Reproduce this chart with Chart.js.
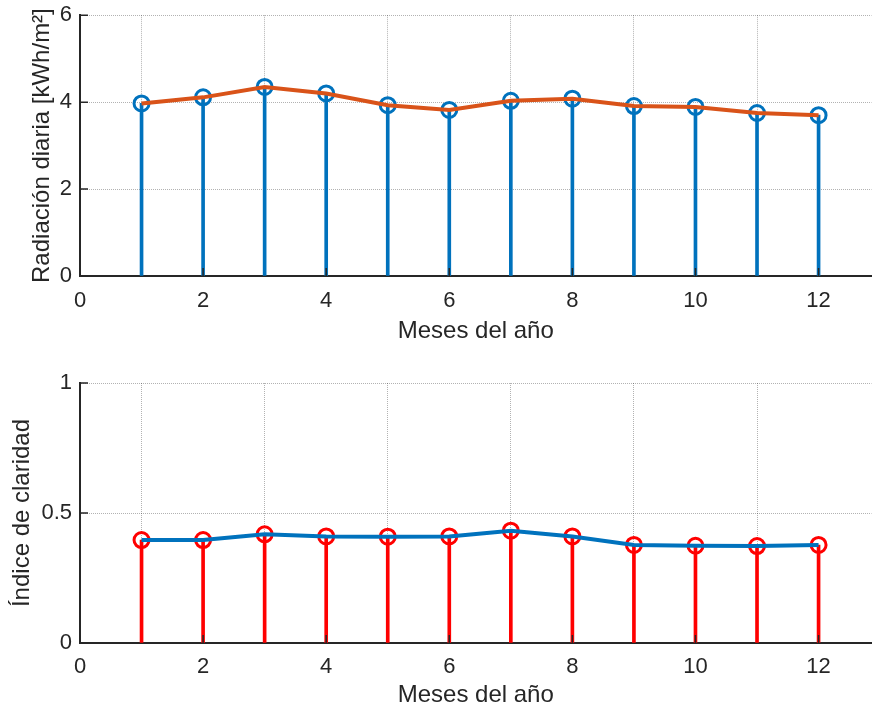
<!DOCTYPE html>
<html>
<head>
<meta charset="utf-8">
<script src="https://cdn.jsdelivr.net/npm/chart.js@4.4.1/dist/chart.umd.min.js"></script>
<style>
  body { margin: 0; background: #fff; overflow: hidden; }
  canvas { position: absolute; left: 0; }
</style>
</head>
<body>
<canvas id="top" width="882" height="356" style="top:-6px"></canvas>
<canvas id="bottom" width="882" height="360" style="top:350px"></canvas>
<script>
// datos
var meses = [1, 2, 3, 4, 5, 6, 7, 8, 9, 10, 11, 12];
var radiacion = [3.97, 4.11, 4.35, 4.20, 3.93, 3.82, 4.03, 4.08, 3.91, 3.89, 3.75, 3.70];
var claridad = [0.396, 0.396, 0.418, 0.410, 0.409, 0.410, 0.432, 0.410, 0.377, 0.374, 0.373, 0.377];
var xTicks = [0, 2, 4, 6, 8, 10, 12];
var yTicksRad = [0, 2, 4, 6];
var yTicksClar = [0, 0.5, 1];

var AZUL = '#0072BD';
var NARANJA = '#D95319';
var ROJO = '#FF0000';
var EJE = '#262626';
var fuente = "'Liberation Sans', Arial, sans-serif";

function pts(vals) {
    return meses.map(function (m, i) { return { x: m, y: vals[i] }; });
}

// ticks hacia adentro como en matlab
var ticksDentro = {
    id: 'ticksDentro',
    afterDraw: function (chart) {
        var ctx = chart.ctx;
        var xs = chart.scales.x, ys = chart.scales.y;
        var a = chart.chartArea;
        ctx.save();
        ctx.strokeStyle = EJE;
        ctx.lineWidth = 1.5;
        ctx.beginPath();
        xs.ticks.forEach(function (t) {
            var px = xs.getPixelForValue(t.value);
            ctx.moveTo(px, a.bottom);
            ctx.lineTo(px, a.bottom - 8);
        });
        ys.ticks.forEach(function (t) {
            var py = ys.getPixelForValue(t.value);
            ctx.moveTo(a.left, py);
            ctx.lineTo(a.left + 8, py);
        });
        ctx.stroke();
        ctx.restore();
    }
};

function hacerGrafico(id, vals, colorStem, colorLinea, yMax, yTicks, yTitulo, padTop, altoX, tickPadX, padTitulo, padTituloY) {
    var ctx = document.getElementById(id).getContext('2d');
    return new Chart(ctx, {
        data: {
            datasets: [
                {
                    type: 'line',
                    data: pts(vals),
                    borderColor: colorLinea,
                    borderWidth: 4,
                    pointRadius: 0,
                    tension: 0,
                    order: 0
                },
                {
                    type: 'line',
                    data: pts(vals),
                    showLine: false,
                    pointStyle: 'circle',
                    pointRadius: 7.5,
                    pointBorderWidth: 3,
                    pointBorderColor: colorStem,
                    pointBackgroundColor: 'rgba(0,0,0,0)',
                    order: 1
                },
                {
                    type: 'bar',
                    data: pts(vals),
                    backgroundColor: colorStem,
                    barThickness: 3,
                    order: 2
                }
            ]
        },
        options: {
            responsive: false,
            animation: false,
            layout: { padding: { top: padTop, right: 1, left: 0, bottom: 0 } },
            plugins: { legend: { display: false }, tooltip: { enabled: false } },
            scales: {
                x: {
                    type: 'linear',
                    min: 0,
                    max: 12.86,
                    offset: false,
                    afterBuildTicks: function (s) { s.ticks = xTicks.map(function (v) { return { value: v }; }); },
                    afterFit: function (s) { s.height = altoX; },
                    grid: { color: 'rgba(0,0,0,0.3)', lineWidth: 1, drawTicks: false },
                    border: { display: true, color: EJE, width: 2, dash: [1, 1] },
                    ticks: { color: EJE, font: { family: fuente, size: 22 }, padding: tickPadX, maxRotation: 0 },
                    title: {
                        display: true,
                        text: 'Meses del año',
                        color: EJE,
                        font: { family: fuente, size: 24 },
                        padding: { top: 0, bottom: padTitulo }
                    }
                },
                y: {
                    min: 0,
                    max: yMax,
                    afterBuildTicks: function (s) { s.ticks = yTicks.map(function (v) { return { value: v }; }); },
                    afterFit: function (s) { s.width = 80; },
                    grid: { color: 'rgba(0,0,0,0.3)', lineWidth: 1, drawTicks: false },
                    border: { display: true, color: EJE, width: 2, dash: [1, 1] },
                    ticks: {
                        color: EJE,
                        font: { family: fuente, size: 22 },
                        padding: 8,
                        callback: function (v) { return String(v); }
                    },
                    title: {
                        display: true,
                        text: yTitulo,
                        color: EJE,
                        font: { family: fuente, size: 24 },
                        padding: { top: padTituloY, bottom: 0 }
                    }
                }
            }
        },
        plugins: [ticksDentro]
    });
}

hacerGrafico('top', radiacion, AZUL, NARANJA, 6, yTicksRad, 'Radiación diaria [kWh/m²]', 21, 74, 12, 4, 28);
hacerGrafico('bottom', claridad, ROJO, AZUL, 1, yTicksClar, 'Índice de claridad', 33, 67, 11, 0, 8);
</script>
</body>
</html>
